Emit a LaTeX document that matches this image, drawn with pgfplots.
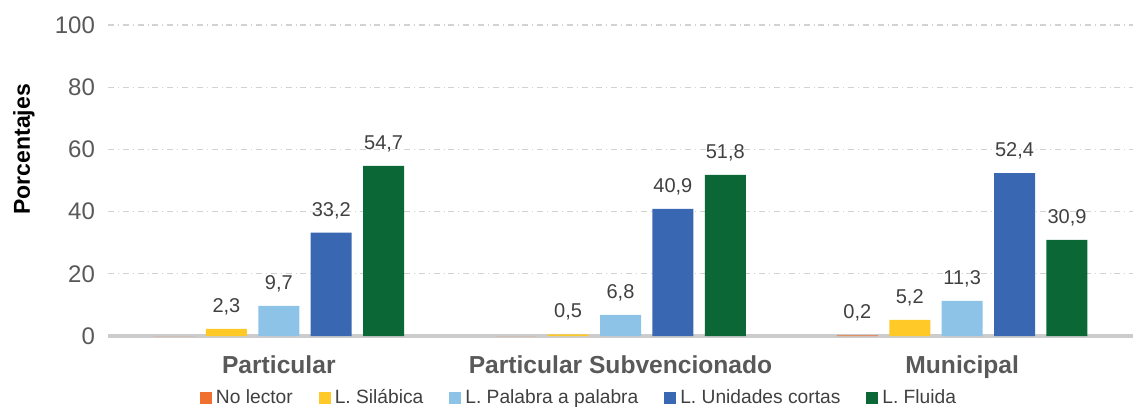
\documentclass[border=0pt]{standalone}
\usepackage{pgfplots}
\pgfplotsset{compat=1.18}
\usepackage{fontspec}
\setmainfont{Liberation Sans}

\definecolor{cNo}{HTML}{F07030}
\definecolor{cSil}{HTML}{FFCA28}
\definecolor{cPal}{HTML}{8EC3E8}
\definecolor{cUni}{HTML}{3A67B2}
\definecolor{cFlu}{HTML}{0B6836}
\definecolor{tickgray}{HTML}{595959}
\definecolor{labgray}{HTML}{404040}

\begin{document}
\begin{tikzpicture}
\begin{axis}[
    scale only axis,
    width=512.5pt, height=155.5pt,
    ybar=5.7pt,
    bar width=20.5pt,
    xmin=-0.5, xmax=2.5,
    ymin=0, ymax=100,
    xtick={0,1,2},
    xticklabels={Particular, Particular Subvencionado, Municipal},
    ytick={0,20,...,100},
    axis lines*=left,
    y axis line style={draw=none},
    x axis line style={draw=gray!40, line width=1.6pt, -},
    major tick length=0pt,
    ymajorgrids,
    grid style={gray!35, dash dot, line width=0.6pt},
    yticklabel style={text=tickgray, font=\fontsize{12}{13}\selectfont, xshift=-3pt},
    xticklabel style={text=tickgray, font=\fontsize{12.3}{14}\selectfont\bfseries, yshift=-6.5pt},
    ylabel={Porcentajes},
    ylabel style={at={(axis description cs:-0.082,0.6)}, anchor=center, font=\fontsize{11.5}{12}\selectfont\bfseries},
    /pgf/number format/assume math mode=true,
    nodes near coords,
    nodes near coords style={text=labgray, font=\fontsize{10}{12}\selectfont, yshift=3.5pt,
        /pgf/number format/.cd, fixed, fixed zerofill, precision=1, use comma},
    legend columns=5,
    legend style={draw=none, at={(axis description cs:0.4605,0)}, yshift=-31pt, anchor=center,
        font=\fontsize{9.6}{11}\selectfont, text=labgray,
        /tikz/every even column/.append style={column sep=11pt}},
    legend image code/.code={\fill (0pt,-3pt) rectangle (6pt,3pt);},
    clip=false,
]
\addplot[fill=cNo, draw=none, point meta=explicit symbolic] coordinates {(0,0) [] (1,0) [] (2,0.2) [0,2]};
\addplot[fill=cSil, draw=none] coordinates {(0,2.3) (1,0.5) (2,5.2)};
\addplot[fill=cPal, draw=none] coordinates {(0,9.7) (1,6.8) (2,11.3)};
\addplot[fill=cUni, draw=none] coordinates {(0,33.2) (1,40.9) (2,52.4)};
\addplot[fill=cFlu, draw=none] coordinates {(0,54.7) (1,51.8) (2,30.9)};
\legend{No lector, L. Silábica, L. Palabra a palabra, L. Unidades cortas, L. Fluida}
\end{axis}
\pgfresetboundingbox
\path (-54pt,-35.5pt) rectangle (512.5pt,168pt);
\end{tikzpicture}
\end{document}
